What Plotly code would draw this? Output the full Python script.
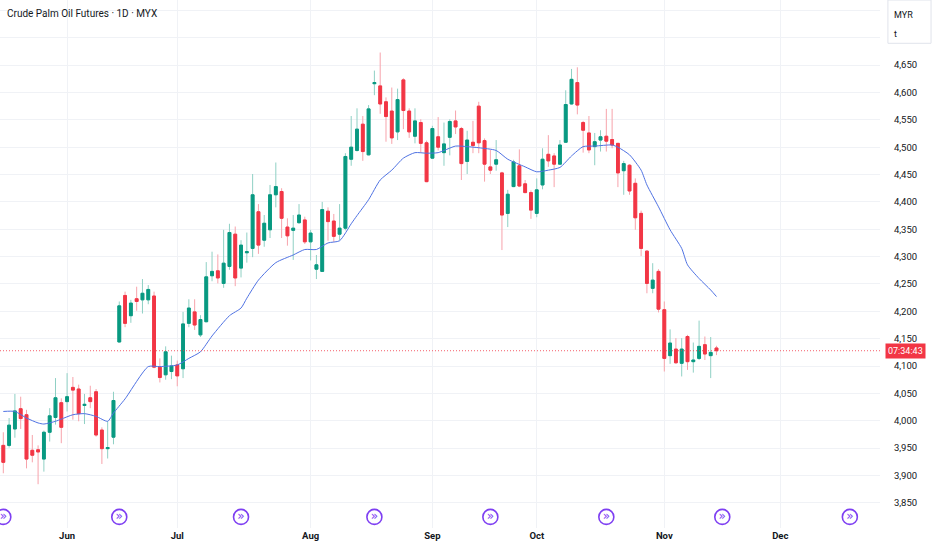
import plotly.graph_objects as go

# Дневные свечи (открытие, максимум, минимум, закрытие)
opens = [3955, 3955, 3985, 4022, 4011, 3946, 3947, 3930, 3979, 4006,
         4033, 4035, 4061, 4058, 4028, 4042, 4053, 3983, 3949, 3970,
         4144, 4229, 4192, 4223, 4221, 4221, 4228, 4098, 4084, 4090,
         4102, 4095, 4178, 4199, 4157, 4181, 4265, 4274, 4251, 4282,
         4341, 4279, 4307, 4315, 4382, 4330, 4349, 4413, 4419, 4354,
         4348, 4362, 4367, 4327, 4277, 4273, 4383, 4365, 4341, 4352,
         4478, 4494, 4542, 4486, 4616, 4612, 4583, 4566, 4528, 4623,
         4566, 4520, 4545, 4508, 4480, 4519, 4490, 4518, 4548, 4534,
         4474, 4509, 4575, 4512, 4464, 4469, 4453, 4379, 4428, 4466,
         4433, 4417, 4379, 4431, 4487, 4484, 4469, 4509, 4579, 4618,
         4545, 4526, 4501, 4513, 4520, 4514, 4507, 4457, 4467, 4434,
         4379, 4310, 4242, 4273, 4203, 4119, 4131, 4105, 4154, 4108,
         4114, 4139, 4119, 4133]
highs = [3979, 4005, 4049, 4044, 4020, 3974, 3955, 3982, 4023, 4078,
         4041, 4087, 4080, 4066, 4049, 4064, 4058, 3988, 3999, 4053,
         4218, 4236, 4221, 4245, 4259, 4248, 4236, 4114, 4136, 4119,
         4110, 4199, 4222, 4222, 4193, 4290, 4309, 4304, 4349, 4360,
         4355, 4330, 4344, 4451, 4396, 4376, 4431, 4472, 4425, 4370,
         4376, 4396, 4373, 4349, 4303, 4400, 4390, 4378, 4396, 4489,
         4557, 4571, 4557, 4577, 4640, 4673, 4591, 4609, 4607, 4626,
         4571, 4571, 4551, 4512, 4539, 4555, 4545, 4551, 4567, 4537,
         4530, 4548, 4583, 4516, 4495, 4513, 4455, 4422, 4477, 4496,
         4440, 4421, 4443, 4498, 4522, 4489, 4513, 4604, 4643, 4646,
         4548, 4557, 4526, 4531, 4570, 4570, 4507, 4475, 4469, 4443,
         4384, 4312, 4288, 4277, 4218, 4167, 4151, 4151, 4157, 4143,
         4183, 4154, 4153, 4137]
lows = [3904, 3951, 3969, 3985, 3913, 3924, 3884, 3907, 3962, 3993,
        3959, 4017, 4002, 3999, 3994, 4023, 3971, 3921, 3931, 3957,
        4143, 4171, 4179, 4201, 4196, 4213, 4096, 4070, 4075, 4076,
        4063, 4078, 4171, 4166, 4153, 4180, 4255, 4251, 4243, 4276,
        4246, 4262, 4289, 4299, 4305, 4318, 4334, 4390, 4334, 4320,
        4294, 4360, 4323, 4293, 4259, 4272, 4329, 4327, 4330, 4348,
        4466, 4492, 4475, 4485, 4595, 4561, 4510, 4506, 4513, 4533,
        4517, 4507, 4490, 4436, 4479, 4494, 4466, 4485, 4524, 4440,
        4451, 4489, 4489, 4437, 4451, 4457, 4312, 4354, 4427, 4427,
        4416, 4369, 4372, 4423, 4464, 4427, 4469, 4508, 4578, 4560,
        4490, 4489, 4467, 4492, 4492, 4498, 4427, 4413, 4413, 4349,
        4301, 4233, 4233, 4198, 4090, 4104, 4104, 4081, 4093, 4088,
        4111, 4111, 4078, 4120]
closes = [3924, 3992, 4018, 4004, 3930, 3937, 3943, 3979, 4009, 4042,
          3988, 4044, 4056, 4013, 4030, 4035, 3974, 3949, 3951, 4037,
          4210, 4178, 4215, 4218, 4233, 4240, 4098, 4079, 4126, 4100,
          4082, 4177, 4206, 4175, 4185, 4263, 4273, 4261, 4288, 4344,
          4261, 4321, 4309, 4413, 4321, 4361, 4413, 4428, 4370, 4338,
          4352, 4376, 4327, 4343, 4285, 4386, 4364, 4337, 4352, 4483,
          4500, 4533, 4492, 4570, 4618, 4579, 4556, 4517, 4587, 4567,
          4528, 4548, 4507, 4437, 4534, 4500, 4506, 4547, 4537, 4470,
          4513, 4503, 4508, 4469, 4458, 4477, 4376, 4414, 4473, 4429,
          4417, 4385, 4422, 4478, 4475, 4469, 4504, 4578, 4624, 4577,
          4531, 4495, 4510, 4519, 4511, 4504, 4453, 4470, 4420, 4371,
          4315, 4251, 4257, 4204, 4114, 4142, 4106, 4131, 4108, 4111,
          4136, 4122, 4125, 4128]

# Скользящая средняя (синяя линия), считана в отдельных точках
ma_bars = [0, 2, 4, 6, 7, 9, 10, 12, 14, 16, 18, 19, 21, 25, 27, 30, 32, 34,
           36, 39, 41, 42, 44, 47, 50, 52, 54, 56, 58, 60, 61, 63, 65, 67,
           69, 71, 73, 75, 78, 80, 82, 85, 87, 90, 92, 94, 96, 98, 100, 102,
           105, 106, 108, 110, 111, 113, 115, 117, 118, 120, 122, 123]
ma_values = [4017, 4017, 4005, 3996, 3994, 3999, 4003, 4011, 4013, 4008,
             3999, 4014, 4040, 4099, 4099, 4102, 4114, 4126, 4155, 4192,
             4206, 4224, 4257, 4289, 4303, 4313, 4313, 4325, 4329, 4360,
             4375, 4404, 4440, 4458, 4480, 4490, 4489, 4490, 4502, 4501,
             4499, 4494, 4478, 4464, 4455, 4458, 4463, 4484, 4501, 4502,
             4504, 4500, 4486, 4458, 4431, 4391, 4349, 4315, 4285, 4260,
             4239, 4227]

# Подписи месяцев и номера баров, где они стоят
month_bars = [11, 30, 53, 74, 92, 114, 134]
month_labels = ["Jun", "Jul", "Aug", "Sep", "Oct", "Nov", "Dec"]

# Ценовая шкала
price_ticks = [3850, 3900, 3950, 4000, 4050, 4100, 4150, 4200, 4250, 4300,
               4350, 4400, 4450, 4500, 4550, 4600, 4650, 4700, 4750]
price_labels = ["3,850", "3,900", "3,950", "4,000", "4,050", "4,100", "4,150",
                "4,200", "4,250", "4,300", "4,350", "4,400", "4,450", "4,500",
                "4,550", "4,600", "4,650", "", ""]

# Значки событий внизу графика (номер бара)
event_bars = [0, 20, 41, 64, 84, 104, 124, 146]

countdown = "07:34:43"
title_text = "Crude Palm Oil Futures · 1D · MYX"

# Цвета
UP = "#089981"
DOWN = "#f23645"
UP_WICK = "#8fd0c4"
DOWN_WICK = "#f7a3ab"
MA_COLOR = "#4f72e3"
EVENT_COLOR = "#7e3ff2"
GRID = "#f0f2f6"
TEXT = "#131722"
FONT = "Roboto, sans-serif"

bars = list(range(len(closes)))
body_high = [max(o, c) for o, c in zip(opens, closes)]
body_low = [min(o, c) for o, c in zip(opens, closes)]

fig = go.Figure()

# Тени свечей (светлые)
fig.add_trace(go.Candlestick(
    x=bars, open=opens, high=highs, low=lows, close=closes,
    increasing=dict(line=dict(color=UP_WICK, width=1), fillcolor=UP_WICK),
    decreasing=dict(line=dict(color=DOWN_WICK, width=1), fillcolor=DOWN_WICK),
    hoverinfo="skip", showlegend=False,
))

# Тела свечей
fig.add_trace(go.Candlestick(
    x=bars, open=opens, high=body_high, low=body_low, close=closes,
    increasing=dict(line=dict(color=UP, width=1), fillcolor=UP),
    decreasing=dict(line=dict(color=DOWN, width=1), fillcolor=DOWN),
    showlegend=False,
))

# Скользящая средняя
fig.add_trace(go.Scatter(
    x=ma_bars, y=ma_values, mode="lines",
    line=dict(color=MA_COLOR, width=1, shape="spline", smoothing=0.6),
    hoverinfo="skip", showlegend=False,
))

# Значки событий
fig.add_trace(go.Scatter(
    x=event_bars, y=[0.021] * len(event_bars), yaxis="y2",
    mode="markers+text", text=["»"] * len(event_bars),
    textposition="middle center",
    textfont=dict(color=EVENT_COLOR, size=12, family="DejaVu Sans"),
    marker=dict(symbol="circle", size=15, color="white",
                line=dict(color=EVENT_COLOR, width=1.6)),
    hoverinfo="skip", showlegend=False,
))

last_close = closes[-1]

fig.update_layout(
    width=932, height=550,
    margin=dict(l=0, r=52, t=0, b=22),
    paper_bgcolor="white", plot_bgcolor="white",
    font=dict(family=FONT, size=10, color=TEXT),
    xaxis=dict(
        range=[-0.57, 151.2], rangeslider=dict(visible=False),
        tickvals=month_bars, ticktext=["<b>%s</b>" % m for m in month_labels],
        showgrid=True, gridcolor=GRID, gridwidth=1,
        zeroline=False, showline=False, ticks="",
        tickfont=dict(size=9.5, color=TEXT),
    ),
    yaxis=dict(
        side="right", range=[3804, 4769],
        tickvals=price_ticks, ticktext=price_labels,
        showgrid=True, gridcolor=GRID, gridwidth=1,
        zeroline=False, showline=False, ticks="outside", ticklen=11,
        tickcolor="rgba(0,0,0,0)", tickfont=dict(size=9.5, color=TEXT),
    ),
    yaxis2=dict(overlaying="y", range=[0, 1], visible=False, fixedrange=True),
    shapes=[
        # пунктир последней цены
        dict(type="line", xref="paper", x0=0, x1=1, yref="y",
             y0=last_close, y1=last_close,
             line=dict(color=DOWN, width=0.8, dash="1px,2px")),
        # рамка с валютой
        dict(type="rect", xref="paper", yref="paper",
             x0=1.009, x1=1.058, y0=0.918, y1=1.0,
             line=dict(color="#e0e3eb", width=1), fillcolor="white",
             layer="above"),
    ],
    annotations=[
        dict(text=title_text, xref="paper", yref="paper", x=0, y=1,
             xanchor="left", yanchor="top", xshift=5, yshift=-6,
             showarrow=False, font=dict(size=10, color=TEXT)),
        dict(text="MYR", xref="paper", yref="paper", x=1, y=1,
             xanchor="left", yanchor="top", xshift=12, yshift=-8,
             showarrow=False, font=dict(size=9, color=TEXT)),
        dict(text="t", xref="paper", yref="paper", x=1, y=1,
             xanchor="left", yanchor="top", xshift=12, yshift=-27,
             showarrow=False, font=dict(size=9, color=TEXT)),
        dict(text=countdown, xref="paper", yref="y", x=1, y=last_close,
             xanchor="left", yanchor="middle", xshift=5,
             showarrow=False, bgcolor=DOWN, borderpad=2,
             font=dict(size=9, color="white")),
    ],
)

# убираем отступ страницы, чтобы график начинался с левого верхнего угла
fig.write_html("out.html", config={"displayModeBar": False},
               post_script="document.body.style.margin = '0';")
